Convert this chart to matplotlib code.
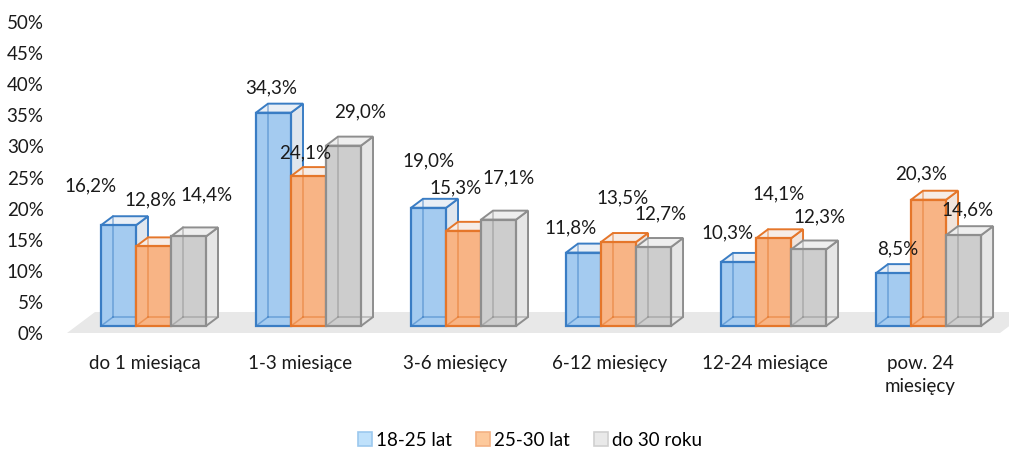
import matplotlib
matplotlib.use("Agg")
import matplotlib.pyplot as plt
from matplotlib.patches import Polygon, Patch

plt.rcParams['font.family'] = ['Lato', 'DejaVu Sans']

categories = ["do 1 miesiąca", "1-3 miesiące", "3-6 miesięcy", "6-12 miesięcy",
              "12-24 miesiące", "pow. 24\nmiesięcy"]
series_names = ["18-25 lat", "25-30 lat", "do 30 roku"]
v_18_25 = [16.2, 34.3, 19.0, 11.8, 10.3, 8.5]
v_25_30 = [12.8, 24.1, 15.3, 13.5, 14.1, 20.3]
v_do_30 = [14.4, 29.0, 17.1, 12.7, 12.3, 14.6]
series = [v_18_25, v_25_30, v_do_30]

# label offsets in pixels (x, up) relative to top of front face
lab_dx = [[-28, -3, 18], [-2, -3, 17], [0, -8, 10], [-13, 4, 7], [-11, 5, 11], [4, -7, 4]]
lab_up = [[39, 47, 42], [25, 23, 34], [47, 43, 42], [25, 44, 33], [29, 44, 33], [24, 26, 25]]

face = ["#a4cbf0", "#f8b485", "#cdcdcd"]
edge = ["#3a7dc4", "#e5762a", "#8e8e8e"]
side = ["#dfe6ee", "#f1e4dc", "#e6e6e6"]
top = ["#e9eff6", "#f6ece6", "#eeeeee"]
legend_face = ["#bfe1fb", "#fdc99c", "#e9e9e9"]
legend_edge = ["#9cc8ee", "#f4b183", "#d0d0d0"]
fs = 13.5

fig = plt.figure(figsize=(10.09, 4.51), dpi=100)
ax = fig.add_axes([52 / 1009, 106 / 451, 957 / 1009, 335 / 451])
ax.set_xlim(-0.6548, 5.519)
ax.set_ylim(-1.929, 51.93)
for s in ax.spines.values():
    s.set_visible(False)

w = 35 / 155
dx = 12 / 155
dy = 9 / 6.22
y0 = 7 / 6.22

# floor
fd_x, fd_y = 0.1806, 21 / 6.22
fl, fr = -0.558, 5.461
ax.add_patch(Polygon([(fl, 0), (fr, 0), (fr + fd_x, fd_y), (fl + fd_x, fd_y)],
                     closed=True, facecolor="#e8e8e8", edgecolor="none", zorder=0))

for i in range(len(categories)):
    for k in range(3):
        h = series[k][i]
        x0 = i - 1.5 * w + k * w
        z = 2 + i * 3 + k
        right = [(x0 + w, y0), (x0 + w + dx, y0 + dy), (x0 + w + dx, y0 + h + dy), (x0 + w, y0 + h)]
        topf = [(x0, y0 + h), (x0 + w, y0 + h), (x0 + w + dx, y0 + h + dy), (x0 + dx, y0 + h + dy)]
        front = [(x0, y0), (x0 + w, y0), (x0 + w, y0 + h), (x0, y0 + h)]
        ax.add_patch(Polygon(right, closed=True, facecolor=side[k], edgecolor=edge[k], lw=1.4, zorder=z))
        ax.add_patch(Polygon(topf, closed=True, facecolor=top[k], edgecolor=edge[k], lw=1.4, zorder=z))
        ax.add_patch(Polygon(front, closed=True, facecolor=face[k], edgecolor="none", zorder=z))
        # hidden edges seen through the front face
        ax.plot([x0 + dx, x0 + dx], [y0 + dy, y0 + h + dy], color=edge[k], lw=1.1, alpha=0.55, zorder=z)
        ax.plot([x0 + dx, x0 + w + dx], [y0 + dy, y0 + dy], color=edge[k], lw=1.1, alpha=0.55, zorder=z)
        ax.plot([x0, x0 + dx], [y0, y0 + dy], color=edge[k], lw=1.1, alpha=0.55, zorder=z)
        ax.add_patch(Polygon(front, closed=True, facecolor="none", edgecolor=edge[k], lw=1.6, zorder=z))
        ax.annotate(f"{h:.1f}%".replace(".", ","), (x0 + w / 2, y0 + h),
                    xytext=(lab_dx[i][k], lab_up[i][k]), textcoords="offset pixels",
                    ha="center", va="center", fontsize=fs, color="#1a1a1a", zorder=50)

ax.set_yticks(range(0, 51, 5))
ax.set_yticklabels([f"{t}%" for t in range(0, 51, 5)], fontsize=fs, color="#1a1a1a")
ax.set_xticks([i - 0.055 for i in range(len(categories))])
ax.set_xticklabels(categories, fontsize=fs, color="#1a1a1a", va="top", linespacing=1.45)
ax.tick_params(length=0)
ax.tick_params(axis="y", pad=6)
ax.tick_params(axis="x", pad=7)

handles = [Patch(facecolor=legend_face[k], edgecolor=legend_edge[k], lw=1.2) for k in range(3)]
fig.legend(handles, series_names, loc="center", bbox_to_anchor=(530 / 1009, 11 / 451),
           ncol=3, frameon=False, fontsize=fs, handlelength=0.75, handleheight=0.75,
           handletextpad=0.2, columnspacing=1.3)

fig.savefig("out.png", dpi=100)
